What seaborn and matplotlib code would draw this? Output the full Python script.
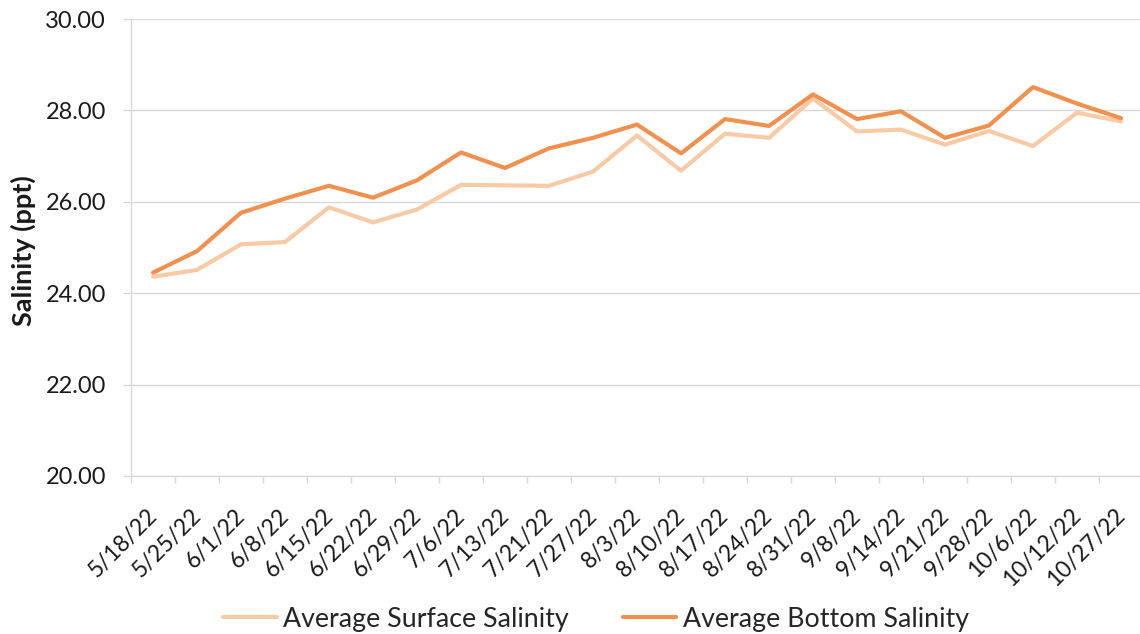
import numpy as np
import pandas as pd
import matplotlib
matplotlib.use("Agg")
import matplotlib.pyplot as plt
import matplotlib.transforms as mtransforms
import seaborn as sns
from matplotlib.lines import Line2D
from matplotlib.ticker import FixedLocator, FormatStrFormatter

dates = ["5/18/22", "5/25/22", "6/1/22", "6/8/22", "6/15/22", "6/22/22", "6/29/22",
         "7/6/22", "7/13/22", "7/21/22", "7/27/22", "8/3/22", "8/10/22", "8/17/22",
         "8/24/22", "8/31/22", "9/8/22", "9/14/22", "9/21/22", "9/28/22", "10/6/22",
         "10/12/22", "10/27/22"]

surface = [24.36, 24.51, 25.07, 25.12, 25.88, 25.55, 25.83, 26.37, 26.36, 26.35,
           26.66, 27.45, 26.68, 27.49, 27.40, 28.26, 27.54, 27.58, 27.25, 27.55,
           27.22, 27.95, 27.76]

bottom = [24.45, 24.92, 25.76, 26.07, 26.35, 26.09, 26.47, 27.08, 26.74, 27.17,
          27.40, 27.69, 27.06, 27.81, 27.66, 28.35, 27.81, 27.98, 27.40, 27.67,
          28.51, 28.15, 27.83]

series_names = ["Average Surface Salinity", "Average Bottom Salinity"]
colors = ["#F9CAA6", "#F1914F"]
y_ticks = [20, 22, 24, 26, 28, 30]

idx = np.arange(len(dates))
df = pd.concat([
    pd.DataFrame({"idx": idx, "value": surface, "series": series_names[0]}),
    pd.DataFrame({"idx": idx, "value": bottom, "series": series_names[1]}),
])

sns.set_style("white")
plt.rcParams["font.family"] = ["Lato", "DejaVu Sans"]

fig = plt.figure(figsize=(11.4, 6.34), dpi=100)
ax = fig.add_axes([131 / 1140, 1 - 476 / 634, (1143 - 131) / 1140, (476 - 19) / 634])

sns.lineplot(data=df, x="idx", y="value", hue="series", hue_order=series_names,
             palette=colors, linewidth=3, sort=False, ax=ax, legend=False)

grid_c = "#D9D9D9"
ax.set_xlim(-0.5, len(dates) - 0.5)
ax.set_ylim(20, 30)
ax.yaxis.set_major_locator(FixedLocator(y_ticks))
ax.yaxis.set_major_formatter(FormatStrFormatter("%.2f"))
ax.grid(axis="y", color=grid_c, linewidth=1.0)
ax.set_axisbelow(True)

ax.set_xticks(idx)
ax.set_xticklabels(dates, rotation=45, ha="right", va="top")
ax.set_xticks(np.arange(-0.5, len(dates), 1.0), minor=True)
ax.tick_params(axis="x", which="major", length=0, pad=12, labelsize=16.5, labelcolor="#1a1a1a")
ax.tick_params(axis="x", which="minor", length=5, width=1, color=grid_c, direction="out", bottom=True)
ax.tick_params(axis="y", which="major", length=6, width=1, color=grid_c, pad=12,
               labelsize=17, labelcolor="#1a1a1a", left=True)

# shift rotated date labels (after tick_params, which resets transforms)
offset = mtransforms.ScaledTranslation(8 / 100, -12 / 100, fig.dpi_scale_trans)
for lbl in ax.get_xticklabels():
    lbl.set_transform(lbl.get_transform() + offset)

for s in ["top", "right"]:
    ax.spines[s].set_visible(False)
ax.spines["left"].set_color(grid_c)
ax.spines["bottom"].set_color(grid_c)
ax.spines["left"].set_linewidth(1.0)
ax.spines["bottom"].set_linewidth(1.0)

ax.set_xlabel("")
ax.set_ylabel("Salinity (ppt)", fontsize=19.5, fontweight="bold", color="#1a1a1a")
ax.yaxis.set_label_coords(23 / 1140, 1 - 251 / 634, transform=fig.transFigure)
ax.yaxis.label.set_va("center")

handles = [Line2D([0], [0], color=c, linewidth=3) for c in colors]
fig.legend(handles, series_names, loc="center", bbox_to_anchor=(596 / 1140, 1 - 619 / 634),
           ncol=2, frameon=False, fontsize=19.3, handlelength=2.0, handletextpad=0.25,
           columnspacing=2.0)

fig.savefig("out.png", dpi=100)
